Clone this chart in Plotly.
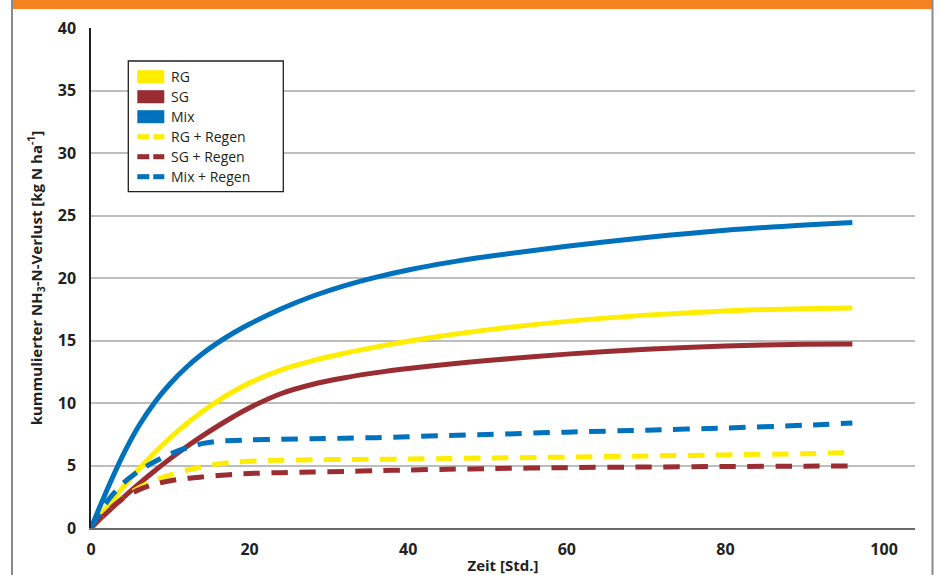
import plotly.graph_objects as go

# ---- data ----
hours = [0, 2, 4, 6, 8, 10, 12, 14, 16, 18, 20, 24, 28, 32, 36, 40, 45, 50, 60, 70, 80, 90, 96]

rg = [0, 1.68, 3.23, 4.68, 6.01, 7.22, 8.32, 9.30, 10.17, 10.94, 11.61, 12.65, 13.39, 13.98, 14.49, 14.94,
      15.43, 15.85, 16.53, 17.03, 17.37, 17.55, 17.6]
sg = [0, 1.22, 2.39, 3.51, 4.56, 5.55, 6.48, 7.35, 8.16, 8.92, 9.62, 10.76, 11.5, 12.02, 12.43, 12.76,
      13.1, 13.4, 13.91, 14.3, 14.57, 14.7, 14.72]
mix = [0, 3.02, 5.79, 8.14, 10.03, 11.56, 12.84, 13.92, 14.83, 15.62, 16.32, 17.54, 18.56, 19.39, 20.07, 20.64,
       21.23, 21.72, 22.54, 23.24, 23.82, 24.24, 24.44]
rg_regen = [0, 1.3, 2.4, 3.2, 3.8, 4.25, 4.62, 4.9, 5.12, 5.26, 5.35, 5.42, 5.46, 5.48, 5.5, 5.52,
            5.56, 5.6, 5.67, 5.76, 5.85, 5.95, 6.04]
sg_regen = [0, 1.3, 2.35, 3.05, 3.5, 3.78, 3.96, 4.09, 4.2, 4.29, 4.36, 4.43, 4.48, 4.53, 4.58, 4.64,
            4.7, 4.75, 4.83, 4.88, 4.92, 4.95, 4.97]
mix_regen = [0, 2.1, 3.55, 4.55, 5.3, 5.92, 6.4, 6.75, 6.93, 7.0, 7.05, 7.1, 7.14, 7.18, 7.23, 7.3,
             7.4, 7.48, 7.67, 7.83, 8.0, 8.22, 8.4]

series_names = ["RG", "SG", "Mix", "RG + Regen", "SG + Regen", "Mix + Regen"]
series_values = [rg, sg, mix, rg_regen, sg_regen, mix_regen]
series_colors = ["#FFED00", "#9A2D32", "#0071BC", "#FFED00", "#9A2D32", "#0071BC"]
series_dashed = [False, False, False, True, True, True]

y_ticks = [0, 5, 10, 15, 20, 25, 30, 35, 40]
x_ticks = [0, 20, 40, 60, 80, 100]

TEXT = "#231F20"
DASH = "16.5px,11.5px"

# ---- layout geometry (pixels) ----
W, H = 939, 575
ML, MR, MT, MB = 91, 24, 28, 47
PW, PH = W - ML - MR, H - MT - MB


def px(x):
    return (x - ML) / PW


def py(y):
    return (H - MB - y) / PH


fig = go.Figure()
for name, vals, col, dashed in zip(series_names, series_values, series_colors, series_dashed):
    fig.add_trace(go.Scatter(
        x=hours, y=vals, mode="lines", name=name, showlegend=False,
        line=dict(color=col, width=5, shape="spline", smoothing=0.8,
                  dash=DASH if dashed else "solid"),
        hoverinfo="x+y+name",
    ))

shapes = []
# orange band and grey side borders
shapes.append(dict(type="rect", xref="paper", yref="paper", x0=px(12), x1=px(932), y0=py(9), y1=py(0),
                   fillcolor="#F58220", line=dict(width=0), layer="above"))
for xb in (12, 932.5):
    shapes.append(dict(type="line", xref="paper", yref="paper", x0=px(xb), x1=px(xb), y0=py(0), y1=py(H),
                       line=dict(color="#8A8A8A", width=2), layer="above"))

# custom legend box
shapes.append(dict(type="rect", xref="paper", yref="paper", x0=px(128.3), x1=px(283.3), y0=py(191.7), y1=py(61),
                   fillcolor="white", line=dict(color=TEXT, width=1.3), layer="above"))
annotations = []
for i, (name, col, dashed) in enumerate(zip(series_names, series_colors, series_dashed)):
    yc = 76.7 + 20 * i
    if not dashed:
        shapes.append(dict(type="rect", xref="paper", yref="paper", x0=px(137.3), x1=px(164.3),
                           y0=py(yc + 6.5), y1=py(yc - 6.5), fillcolor=col, line=dict(width=0), layer="above"))
    else:
        for a, b in ((137.3, 149.3), (153.3, 164.3)):
            shapes.append(dict(type="rect", xref="paper", yref="paper", x0=px(a), x1=px(b),
                               y0=py(yc + 2.5), y1=py(yc - 2.5), fillcolor=col, line=dict(width=0), layer="above"))
    annotations.append(dict(xref="paper", yref="paper", x=px(169.3), y=py(yc), text=name, showarrow=False,
                            xanchor="left", yanchor="middle", font=dict(family="Open Sans", size=14, color=TEXT)))

fig.update_layout(
    width=W, height=H,
    margin=dict(l=ML, r=MR, t=MT, b=MB, autoexpand=False),
    paper_bgcolor="white", plot_bgcolor="white",
    showlegend=False,
    shapes=shapes,
    annotations=annotations,
    font=dict(family="Open Sans", color=TEXT),
    xaxis=dict(
        range=[0, 103.9], tickvals=x_ticks, ticktext=[str(v) for v in x_ticks],
        showgrid=False, zeroline=False, showline=True, linecolor="#6B6B6B", linewidth=2,
        ticks="", ticklabelstandoff=6, automargin=False,
        tickfont=dict(family="Open Sans", size=16, color=TEXT, weight="bold"),
        title=dict(text="Zeit [Std.]", standoff=2,
                   font=dict(family="Open Sans", size=15, color=TEXT, weight="bold")),
    ),
    yaxis=dict(
        range=[0, 40], tickvals=y_ticks, ticktext=[str(v) for v in y_ticks],
        showgrid=True, gridcolor="#BDBDBD", gridwidth=1.5, zeroline=False,
        showline=True, linecolor="#231F20", linewidth=1.5,
        ticks="", ticklabelstandoff=10, automargin=False,
        tickfont=dict(family="Open Sans", size=16, color=TEXT, weight="bold"),
        title=dict(text="kummulierter NH<sub>3</sub>-N-Verlust [kg N ha<sup>-1</sup>]", standoff=12,
                   font=dict(family="Open Sans", size=15, color=TEXT, weight="bold")),
    ),
)

fig.write_html(
    "out.html",
    config={"displayModeBar": False},
    post_script="document.body.style.margin='0';document.body.style.overflow='hidden';",
)
